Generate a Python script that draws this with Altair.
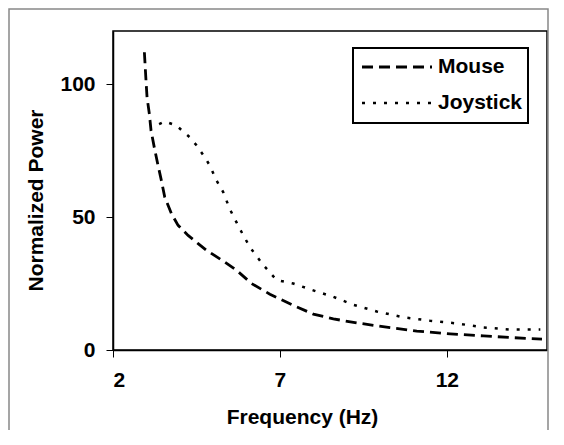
import altair as alt
import pandas as pd

# ---- data ----
series_names = ["Mouse", "Joystick"]

mouse_freq = [2.94, 2.99, 3.02, 3.09, 3.14, 3.24, 3.34, 3.45, 3.55, 3.75, 3.95, 4.25,
              4.55, 4.8, 5.3, 5.7, 6.15, 6.7, 7.4, 8.0, 8.6, 9.3, 10.3, 11.1, 12.1,
              13.1, 13.9, 14.85]
mouse_power = [112, 101, 95, 88.7, 82.5, 76, 70, 63.7, 57.5, 51.3, 46.9, 43.1,
               40, 37.5, 33.5, 30, 25, 21, 16.8, 13.5, 11.7, 10.2, 8.4, 7.1, 6.1,
               5.3, 4.7, 4.1]

joy_freq = [3.38, 3.55, 3.9, 4.3, 4.5, 4.75, 4.9, 5.1, 5.3, 5.5, 5.7, 5.85, 6.1,
            6.5, 6.9, 7.4, 8.1, 8.6, 9.2, 9.9, 10.7, 11.5, 12.3, 13.1, 13.9, 14.8]
joy_power = [85, 86, 84.4, 80, 77, 72.5, 69.4, 63.8, 59.4, 53, 48, 44.4, 38.7,
             32, 26.3, 25, 22, 20, 17, 14.5, 12.3, 11, 10, 8.5, 7.7, 7.7]

x_ticks = [2, 7, 12]
y_ticks = [0, 50, 100]

rows = []
for i, (f, p) in enumerate(zip(mouse_freq, mouse_power)):
    rows.append({"Frequency": f, "Power": p, "Device": series_names[0], "i": i})
for i, (f, p) in enumerate(zip(joy_freq, joy_power)):
    rows.append({"Frequency": f, "Power": p, "Device": series_names[1], "i": i})
df = pd.DataFrame(rows)

FONT = "Liberation Sans"
dash_scale = alt.Scale(domain=series_names, range=[[11, 6], [3, 8]])
width_scale = alt.Scale(domain=series_names, range=[2.8, 2.5])

lines = alt.Chart(df).mark_line(color="black").encode(
    x=alt.X("Frequency:Q",
            scale=alt.Scale(domain=[2, 15], nice=False, zero=False),
            axis=alt.Axis(values=x_ticks, title="Frequency (Hz)", grid=False,
                          labelPadding=12, titleX=189, titleY=67,
                          titleAlign="center", titleBaseline="middle")),
    y=alt.Y("Power:Q",
            scale=alt.Scale(domain=[0, 120], nice=False),
            axis=alt.Axis(values=y_ticks, title="Normalized Power", grid=False,
                          labelPadding=11, titleX=-77, titleY=169,
                          titleAlign="center", titleBaseline="middle")),
    strokeDash=alt.StrokeDash("Device:N", scale=dash_scale, legend=None),
    strokeWidth=alt.StrokeWidth("Device:N", scale=width_scale, legend=None),
    order="i:Q",
)

one = pd.DataFrame({"a": [0]})

frame = alt.Chart(one).mark_rect(
    fill=None, stroke="#888888", strokeWidth=1.5
).encode(
    x=alt.value(-104), x2=alt.value(435), y=alt.value(-22), y2=alt.value(430)
)

legend_box = alt.Chart(one).mark_rect(
    fill="white", stroke="black", strokeWidth=2
).encode(
    x=alt.value(240), x2=alt.value(415), y=alt.value(17), y2=alt.value(92)
)

legend_layers = [legend_box]
for k, name in enumerate(series_names):
    sub = pd.DataFrame({"Device": [name]})
    ypos = 36 + 36 * k
    legend_layers.append(
        alt.Chart(sub).mark_rule(color="black").encode(
            x=alt.value(249), x2=alt.value(319), y=alt.value(ypos),
            strokeDash=alt.StrokeDash("Device:N", scale=dash_scale, legend=None),
            strokeWidth=alt.StrokeWidth("Device:N", scale=width_scale, legend=None),
        )
    )
    legend_layers.append(
        alt.Chart(sub).mark_text(
            align="left", baseline="middle", font=FONT, fontSize=21,
            fontWeight="bold", color="black"
        ).encode(x=alt.value(325), y=alt.value(ypos), text="Device:N")
    )

chart = alt.layer(frame, lines, *legend_layers).properties(
    width=434, height=319,
    autosize=alt.AutoSizeParams(type="none"),
    padding={"left": 105, "top": 23, "right": 9, "bottom": 80},
).configure_view(
    stroke="black", strokeWidth=1.5
).configure_axis(
    domainColor="black", tickColor="black", tickSize=7, domainWidth=1.5,
    labelFont=FONT, labelFontSize=21, labelFontWeight="bold", labelColor="black",
    titleFont=FONT, titleFontSize=21, titleFontWeight="bold", titleColor="black",
)

chart.save("out.html", embed_options={"renderer": "svg", "actions": False})
